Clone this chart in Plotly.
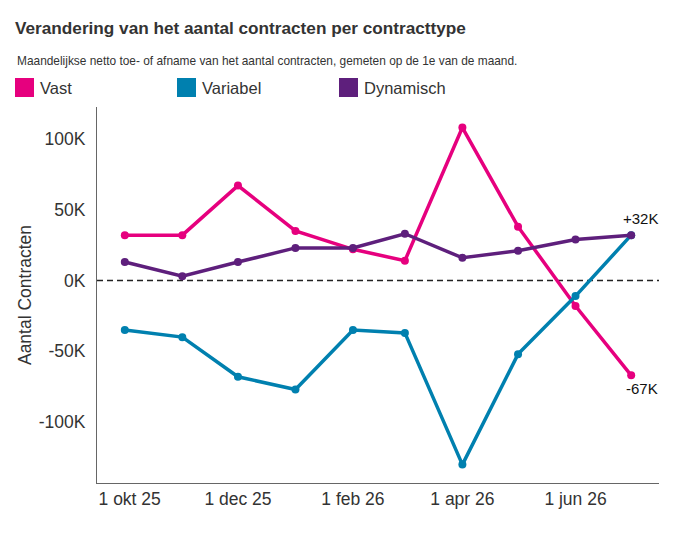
import plotly.graph_objects as go

# maanden (1e van de maand)
maanden = ["2025-10-01", "2025-11-01", "2025-12-01", "2026-01-01", "2026-02-01",
           "2026-03-01", "2026-04-01", "2026-05-01", "2026-06-01", "2026-07-01"]

vast = [32000, 32000, 67000, 35000, 22000, 14000, 108000, 38000, -18000, -67000]
variabel = [-35000, -40000, -68000, -77000, -35000, -37000, -130000, -52000, -11000, 32000]
dynamisch = [13000, 3000, 13000, 23000, 23000, 33000, 16000, 21000, 29000, 32000]

series_names = ["Vast", "Variabel", "Dynamisch"]
series_colors = ["#E6007E", "#0080AF", "#5E1F7C"]

x_tickvals = ["2025-10-01", "2025-12-01", "2026-02-01", "2026-04-01", "2026-06-01"]
# eerste label iets naar rechts, zoals in het origineel
x_ticktext = ["\u00a0\u00a01 okt 25", "1 dec 25", "1 feb 26", "1 apr 26", "1 jun 26"]
y_tickvals = [-100000, -50000, 0, 50000, 100000]
y_ticktext = ["-100K", "-50K", "0K", "50K", "100K"]

FONT = "Liberation Sans, Arial, sans-serif"
TXT = "#333333"

fig = go.Figure()

for name, values, color in zip(series_names, [vast, variabel, dynamisch], series_colors):
    fig.add_trace(go.Scatter(
        x=maanden, y=values, name=name, mode="lines+markers",
        line=dict(color=color, width=3.5),
        marker=dict(color=color, size=8),
        showlegend=False, cliponaxis=False,
    ))

# labels bij de laatste waarden
fig.add_annotation(x=maanden[-1], y=variabel[-1], text="+%dK" % (variabel[-1] // 1000),
                   showarrow=False, yshift=17, xshift=9,
                   font=dict(family=FONT, size=15, color="#111111"))
fig.add_annotation(x=maanden[-1], y=vast[-1], text="%dK" % (vast[-1] // 1000),
                   showarrow=False, yshift=-13, xshift=11,
                   font=dict(family=FONT, size=15, color="#111111"))

# nul-lijn
fig.add_shape(type="line", xref="paper", yref="y", x0=0, x1=1, y0=0, y1=0,
              line=dict(color="#222222", width=1.5, dash="6px,4px"), layer="below")

# legenda met vierkantjes
L, W = 97, 562
for i, (name, color) in enumerate(zip(series_names, series_colors)):
    px = 15 + i * 162
    fig.add_shape(type="rect", xref="paper", yref="paper",
                  x0=(px - L) / W, x1=(px + 19 - L) / W,
                  y0=(483 - 97) / 376, y1=(483 - 78) / 376,
                  fillcolor=color, line=dict(width=0))
    fig.add_annotation(xref="paper", yref="paper", x=(px + 23 - L) / W, y=(483 - 87.5) / 376,
                       text=name, showarrow=False, xanchor="left", yanchor="middle",
                       font=dict(family=FONT, size=16.5, color=TXT))

fig.add_annotation(xref="paper", yref="paper", x=(15 - L) / W, y=(483 - 61) / 376,
                   text="Maandelijkse netto toe- of afname van het aantal contracten, gemeten op de 1e van de maand.",
                   showarrow=False, xanchor="left", yanchor="middle",
                   font=dict(family=FONT, size=11.9, color=TXT))

fig.update_layout(
    width=675, height=540,
    margin=dict(l=89, r=24, t=99, b=65),
    paper_bgcolor="white", plot_bgcolor="white",
    font=dict(family=FONT, color=TXT),
    title=dict(text="<b>Verandering van het aantal contracten per contracttype</b>",
               x=7 / 675, xanchor="left", xref="container",
               y=1 - 20 / 540, yanchor="middle", yref="container",
               font=dict(family=FONT, size=17.2, color=TXT)),
    xaxis=dict(type="date", range=["2025-09-16", "2026-07-16"],
               tickvals=x_tickvals, ticktext=x_ticktext,
               showgrid=False, zeroline=False,
               showline=True, linecolor="#666666", linewidth=1.2,
               ticks="", ticklabelstandoff=0,
               tickfont=dict(family=FONT, size=17.5, color=TXT)),
    yaxis=dict(range=[-143000, 122500], tickvals=y_tickvals, ticktext=y_ticktext,
               showgrid=False, zeroline=False,
               showline=True, linecolor="#666666", linewidth=1.2,
               ticks="", ticklabelstandoff=7,
               tickfont=dict(family=FONT, size=17.5, color=TXT),
               title=dict(text="Aantal Contracten", standoff=2,
                          font=dict(family=FONT, size=17.5, color=TXT))),
)

fig.write_html("out.html")
